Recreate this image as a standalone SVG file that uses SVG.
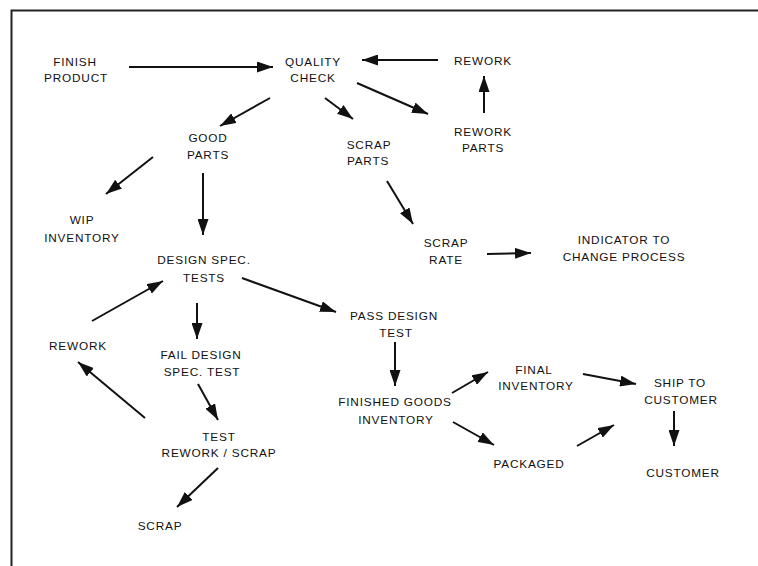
<svg xmlns="http://www.w3.org/2000/svg" width="758" height="566" viewBox="0 0 758 566">
<style>
text{font-family:"Liberation Sans",Arial,sans-serif;font-size:11.8px;letter-spacing:0.8px;fill:#111;text-anchor:middle}
.c line{stroke:#111;stroke-width:2;marker-end:url(#ah)}
.frame{fill:none;stroke:#222;stroke-width:2}
</style>
<defs>
<marker id="ah" markerUnits="userSpaceOnUse" markerWidth="16" markerHeight="11" refX="16" refY="5.5" orient="auto">
<path d="M0,0 L16,5.5 L0,11 z" fill="#111"/>
</marker>
</defs>
<rect width="758" height="566" fill="#fff"/>
<path class="frame" d="M11.5,566 V10.5 H758"/>
<g class="c" id="connectors">
<line x1="129" y1="67" x2="273" y2="67"/>
<line x1="438" y1="60" x2="362" y2="60"/>
<line x1="484" y1="113" x2="484" y2="76"/>
<line x1="357" y1="83" x2="428" y2="114"/>
<line x1="325" y1="98" x2="353" y2="119"/>
<line x1="270" y1="98" x2="220" y2="126"/>
<line x1="153" y1="157" x2="106" y2="194"/>
<line x1="203" y1="173" x2="203" y2="235"/>
<line x1="242" y1="278" x2="336" y2="312"/>
<line x1="92" y1="321" x2="163" y2="281"/>
<line x1="197" y1="303" x2="197" y2="339"/>
<line x1="198" y1="384" x2="218" y2="420"/>
<line x1="145" y1="418" x2="78" y2="362"/>
<line x1="218" y1="468" x2="177" y2="507"/>
<line x1="387" y1="181" x2="413" y2="224"/>
<line x1="487" y1="254" x2="531" y2="253"/>
<line x1="395" y1="342" x2="395" y2="386"/>
<line x1="452" y1="393" x2="488" y2="372"/>
<line x1="453" y1="422" x2="494" y2="445"/>
<line x1="583" y1="374" x2="636" y2="384"/>
<line x1="577" y1="446" x2="614" y2="425"/>
<line x1="674" y1="411" x2="674" y2="446"/>
</g>
<g id="finish-product"><text x="75" y="66">FINISH</text><text x="76" y="82">PRODUCT</text></g>
<g id="quality-check"><text x="313" y="66">QUALITY</text><text x="313" y="82">CHECK</text></g>
<g id="rework-top"><text x="483" y="65">REWORK</text></g>
<g id="rework-parts"><text x="483" y="136">REWORK</text><text x="483" y="152">PARTS</text></g>
<g id="good-parts"><text x="208" y="142">GOOD</text><text x="208" y="159">PARTS</text></g>
<g id="scrap-parts"><text x="369" y="149">SCRAP</text><text x="368" y="165">PARTS</text></g>
<g id="wip-inventory"><text x="82" y="224">WIP</text><text x="82" y="242">INVENTORY</text></g>
<g id="design-spec-tests"><text x="204" y="264">DESIGN SPEC.</text><text x="204" y="282">TESTS</text></g>
<g id="scrap-rate"><text x="446" y="247">SCRAP</text><text x="446" y="264">RATE</text></g>
<g id="indicator"><text x="624" y="244">INDICATOR TO</text><text x="624" y="261">CHANGE PROCESS</text></g>
<g id="pass-design-test"><text x="394" y="320">PASS DESIGN</text><text x="396" y="337">TEST</text></g>
<g id="rework-left"><text x="78" y="350">REWORK</text></g>
<g id="fail-design"><text x="201" y="359">FAIL DESIGN</text><text x="202" y="376">SPEC. TEST</text></g>
<g id="finished-goods"><text x="395" y="406">FINISHED GOODS</text><text x="396" y="424">INVENTORY</text></g>
<g id="final-inventory"><text x="534" y="374">FINAL</text><text x="536" y="390">INVENTORY</text></g>
<g id="ship-to-customer"><text x="680" y="387">SHIP TO</text><text x="681" y="404">CUSTOMER</text></g>
<g id="test-rework-scrap"><text x="219" y="441">TEST</text><text x="219" y="457">REWORK / SCRAP</text></g>
<g id="packaged"><text x="529" y="468">PACKAGED</text></g>
<g id="customer"><text x="683" y="477">CUSTOMER</text></g>
<g id="scrap"><text x="160" y="530">SCRAP</text></g>
</svg>
